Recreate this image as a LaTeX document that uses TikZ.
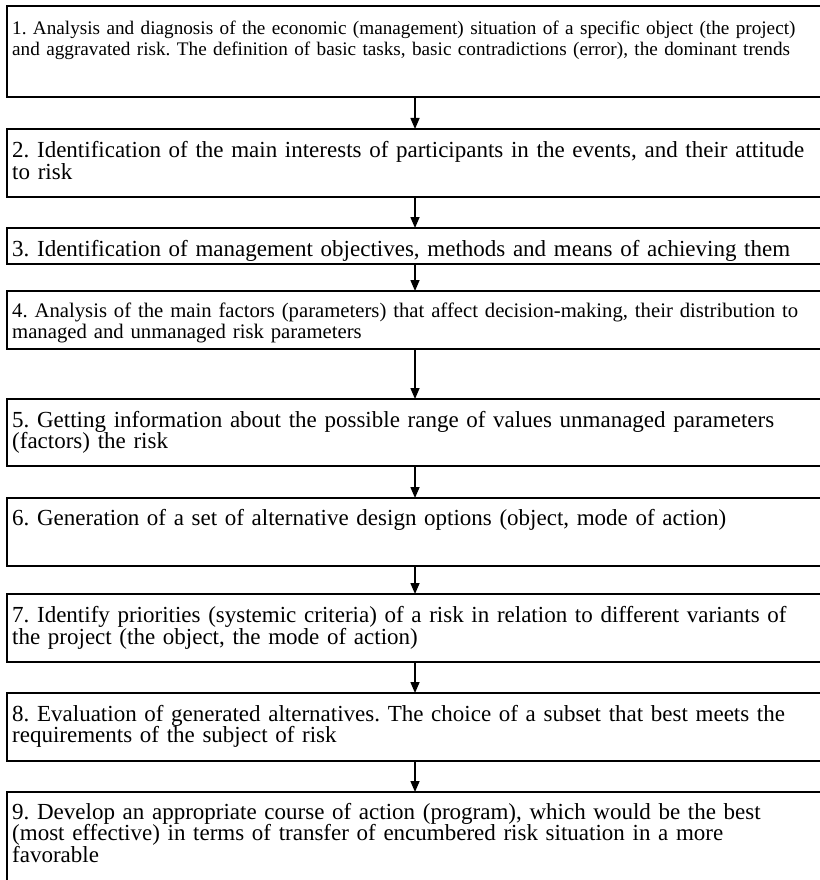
\documentclass[tikz,border=0pt]{standalone}
\usepackage{fontspec}
\setmainfont{Liberation Serif}
\usetikzlibrary{arrows.meta}
\frenchspacing
\setlength{\lineskiplimit}{-50pt}
\newcommand{\jline}[1]{\makebox[803pt][s]{#1}}
\newcommand{\topstrut}{\rule{0pt}{18pt}}
\tikzset{
  box/.style={draw=black, line width=1.5pt, fill=none, anchor=north west, minimum width=823pt, inner sep=0pt, outer sep=0pt},
  txt/.style={anchor=north west, inner sep=0pt, text width=803pt, align=left, font=\fontsize{23}{21.5}\selectfont},
  txtmid/.style={txt, font=\fontsize{20.7}{21}\selectfont},
  txtsmall/.style={txt, font=\fontsize{19.2}{21}\selectfont},
  arr/.style={line width=1.5pt, -{Triangle[length=11pt,width=9pt]}},
}
\begin{document}
\begin{tikzpicture}[x=1pt,y=-1pt]
\useasboundingbox (0,0) rectangle (819,880);
\fill[white] (0,0) rectangle (819,880);
\coordinate (ax) at (415,0);
\node[box, line width=2.2pt, minimum height=91pt] (b1) at (7,6) {};
\node[box, minimum height=68pt] (b2) at (7,129) {};
\node[box, minimum height=36pt] (b3) at (7,228) {};
\node[box, minimum height=58pt] (b4) at (7,291) {};
\node[box, minimum height=67pt] (b5) at (7,399) {};
\node[box, minimum height=68pt] (b6) at (7,498) {};
\node[box, minimum height=68pt] (b7) at (7,594) {};
\node[box, minimum height=68pt] (b8) at (7,693) {};
\node[box, minimum height=100pt] (b9) at (7,792) {};

\node[txtsmall] (t1) at (12,16) {\topstrut\jline{1. Analysis and diagnosis of the economic (management) situation of a specific object (the project)}\\ and aggravated risk. The definition of basic tasks, basic contradictions (error), the dominant trends};
\node[txt] (t2) at (12,139.5) {\topstrut\jline{2. Identification of the main interests of participants in the events, and their attitude}\\ to risk};
\node[txt] (t3) at (12,238) {\topstrut 3. Identification of management objectives, methods and means of achieving them};
\node[txtmid] (t4) at (12,299) {\topstrut\jline{4. Analysis of the main factors (parameters) that affect decision-making, their distribution to}\\ managed and unmanaged risk parameters};
\node[txt] (t5) at (12,409) {\topstrut\jline{5. Getting information about the possible range of values unmanaged parameters}\\ (factors) the risk};
\node[txt] (t6) at (12,507.5) {\topstrut 6. Generation of a set of alternative design options (object, mode of action)};
\node[txt] (t7) at (12,604.5) {\topstrut\jline{7. Identify priorities (systemic criteria) of a risk in relation to different variants of}\\ the project (the object, the mode of action)};
\node[txt] (t8) at (12,703) {\topstrut\jline{8. Evaluation of generated alternatives. The choice of a subset that best meets the}\\ requirements of the subject of risk};
\node[txt] (t9) at (12,801) {\topstrut\jline{9. Develop an appropriate course of action (program), which would be the best}\\ \jline{(most effective) in terms of transfer of encumbered risk situation in a more}\\ favorable};

\draw[arr] (b1.south -| ax) -- (b2.north -| ax);
\draw[arr] (b2.south -| ax) -- (b3.north -| ax);
\draw[arr] (b3.south -| ax) -- (b4.north -| ax);
\draw[arr] (b4.south -| ax) -- (b5.north -| ax);
\draw[arr] (b5.south -| ax) -- (b6.north -| ax);
\draw[arr] (b6.south -| ax) -- (b7.north -| ax);
\draw[arr] (b7.south -| ax) -- (b8.north -| ax);
\draw[arr] (b8.south -| ax) -- (b9.north -| ax);
\end{tikzpicture}
\end{document}
